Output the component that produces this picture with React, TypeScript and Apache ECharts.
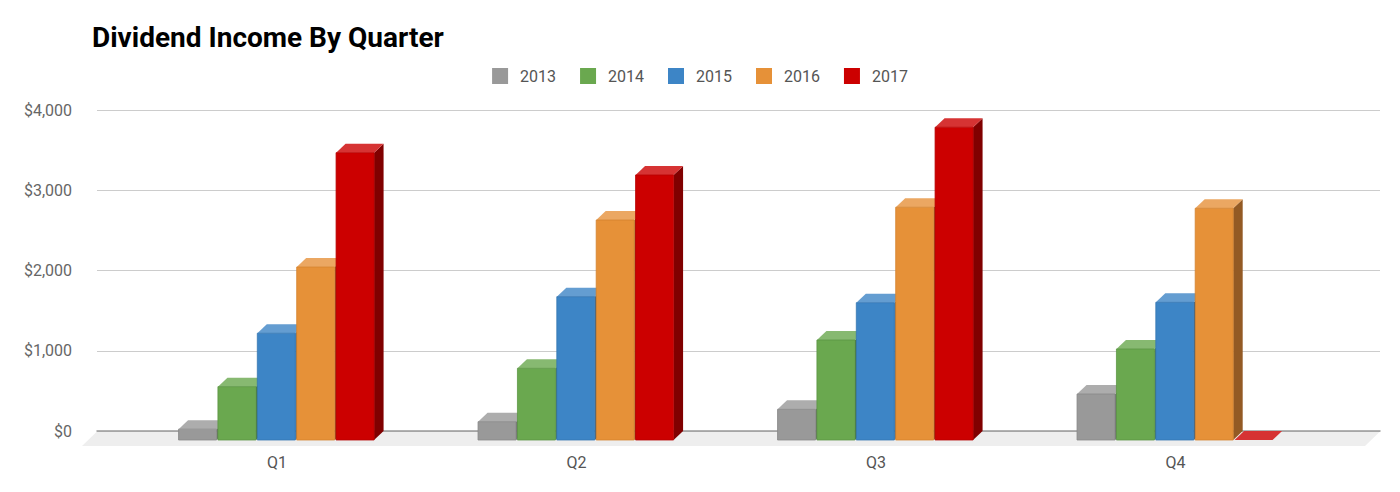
import React, { useEffect, useRef } from "react";
import * as echarts from "echarts";

const quarters = ["Q1", "Q2", "Q3", "Q4"];
const years = ["2013", "2014", "2015", "2016", "2017"];
const d2013 = [135, 228, 382, 573];
const d2014 = [665, 893, 1246, 1134];
const d2015 = [1330, 1786, 1711, 1715];
const d2016 = [2155, 2741, 2900, 2887];
const d2017 = [3580, 3302, 3897, 0];
const yTicks = [0, 1000, 2000, 3000, 4000];

const seriesData = [d2013, d2014, d2015, d2016, d2017];
const frontColors = ["#999999", "#6aa84f", "#3d85c6", "#e69138", "#cc0000"];
const topColors = ["#adadad", "#87b971", "#649dd1", "#eba762", "#d63333"];
const sideColors = ["#6b6b6b", "#4a7637", "#2b5d8b", "#935a24", "#800000"];
const edgeColors = ["#888888", "#5c9644", "#3576b3", "#d4832f", "#b80000"];

const DX = 9.5;
const DY = 9;
const FONT = "Roboto, 'Noto Sans', sans-serif";

function makeRenderItem(si: number) {
  return (params: any, api: any) => {
    const cat = api.value(0);
    const v = api.value(1);
    const base = api.coord([cat, 0]);
    const top = api.coord([cat, v]);
    const band = api.size([1, 0])[0];
    const pitch = band * 0.1315;
    const w = pitch * 0.965;
    const x = base[0] - pitch * 2.5 + si * pitch;
    const yb = base[1];
    const yt = top[1];
    const children: any[] = [];
    children.push({
      type: "polygon",
      shape: {
        points: [
          [x + w, yt],
          [x + w + DX, yt - DY],
          [x + w + DX, yb - DY],
          [x + w, yb],
        ],
      },
      style: { fill: sideColors[si] },
    });
    children.push({
      type: "polygon",
      shape: {
        points: [
          [x, yt],
          [x + DX, yt - DY],
          [x + w + DX, yt - DY],
          [x + w, yt],
        ],
      },
      style: { fill: topColors[si] },
    });
    if (yb - yt > 0.5) {
      children.push({
        type: "rect",
        shape: { x: x, y: yt, width: w, height: yb - yt },
        style: { fill: frontColors[si], stroke: edgeColors[si], lineWidth: 0.8 },
      });
    }
    return { type: "group", children };
  };
}

export default function App() {
  const ref = useRef<HTMLDivElement>(null);
  useEffect(() => {
    if (!ref.current) return;
    const chart = echarts.init(ref.current, undefined, { renderer: "svg" });
    const option: any = {
      animation: false,
      backgroundColor: "#ffffff",
      title: {
        text: "Dividend Income By Quarter",
        left: 92,
        top: 22,
        padding: 0,
        textStyle: {
          fontFamily: FONT,
          fontSize: 28,
          fontWeight: "bold",
          color: "#000000",
          lineHeight: 30,
        },
      },
      legend: {
        data: years,
        left: "center",
        top: 68,
        padding: 0,
        icon: "rect",
        itemWidth: 16,
        itemHeight: 16,
        itemGap: 24,
        textStyle: {
          fontFamily: FONT,
          fontSize: 16,
          color: "#555555",
          padding: [0, 0, 0, 7],
        },
      },
      graphic: [
        {
          type: "polygon",
          z: -1,
          silent: true,
          shape: {
            points: [
              [82, 446],
              [97, 431.5],
              [1380, 431.5],
              [1365, 446],
            ],
          },
          style: { fill: "#eeeeee" },
        },
      ],
      grid: [
        { left: 97, width: 1283, top: 110, height: 321 },
        { left: 127.25, width: 1198, top: 119, height: 321 },
      ],
      xAxis: [
        {
          gridIndex: 0,
          type: "value",
          min: 0,
          max: 1,
          position: "bottom",
          axisLine: { show: true, lineStyle: { color: "#999999", width: 1.5 } },
          axisTick: { show: false },
          axisLabel: { show: false },
          splitLine: { show: false },
        },
        {
          gridIndex: 1,
          type: "category",
          data: quarters,
          axisLine: { show: false },
          axisTick: { show: false },
          axisLabel: {
            margin: 14,
            fontFamily: FONT,
            fontSize: 16,
            color: "#555555",
          },
        },
      ],
      yAxis: [
        {
          gridIndex: 0,
          type: "value",
          min: yTicks[0],
          max: yTicks[yTicks.length - 1],
          interval: 1000,
          axisLine: { show: false },
          axisTick: { show: false },
          axisLabel: {
            margin: 25,
            fontFamily: FONT,
            fontSize: 16,
            color: "#666666",
            formatter: (v: number) => "$" + v.toLocaleString("en-US"),
          },
          splitLine: { show: true, lineStyle: { color: "#cccccc", width: 1.2 } },
        },
        {
          gridIndex: 1,
          type: "value",
          min: yTicks[0],
          max: yTicks[yTicks.length - 1],
          show: false,
        },
      ],
      series: years.map((name, si) => ({
        name,
        type: "custom",
        xAxisIndex: 1,
        yAxisIndex: 1,
        itemStyle: { color: frontColors[si] },
        renderItem: makeRenderItem(si),
        data: seriesData[si].map((v, i) => [i, v]),
        encode: { x: 0, y: 1 },
      })),
    };
    chart.setOption(option);
    return () => chart.dispose();
  }, []);
  return (
    <div
      ref={ref}
      style={{ position: "fixed", left: 0, top: 0, width: 1400, height: 492 }}
    />
  );
}
